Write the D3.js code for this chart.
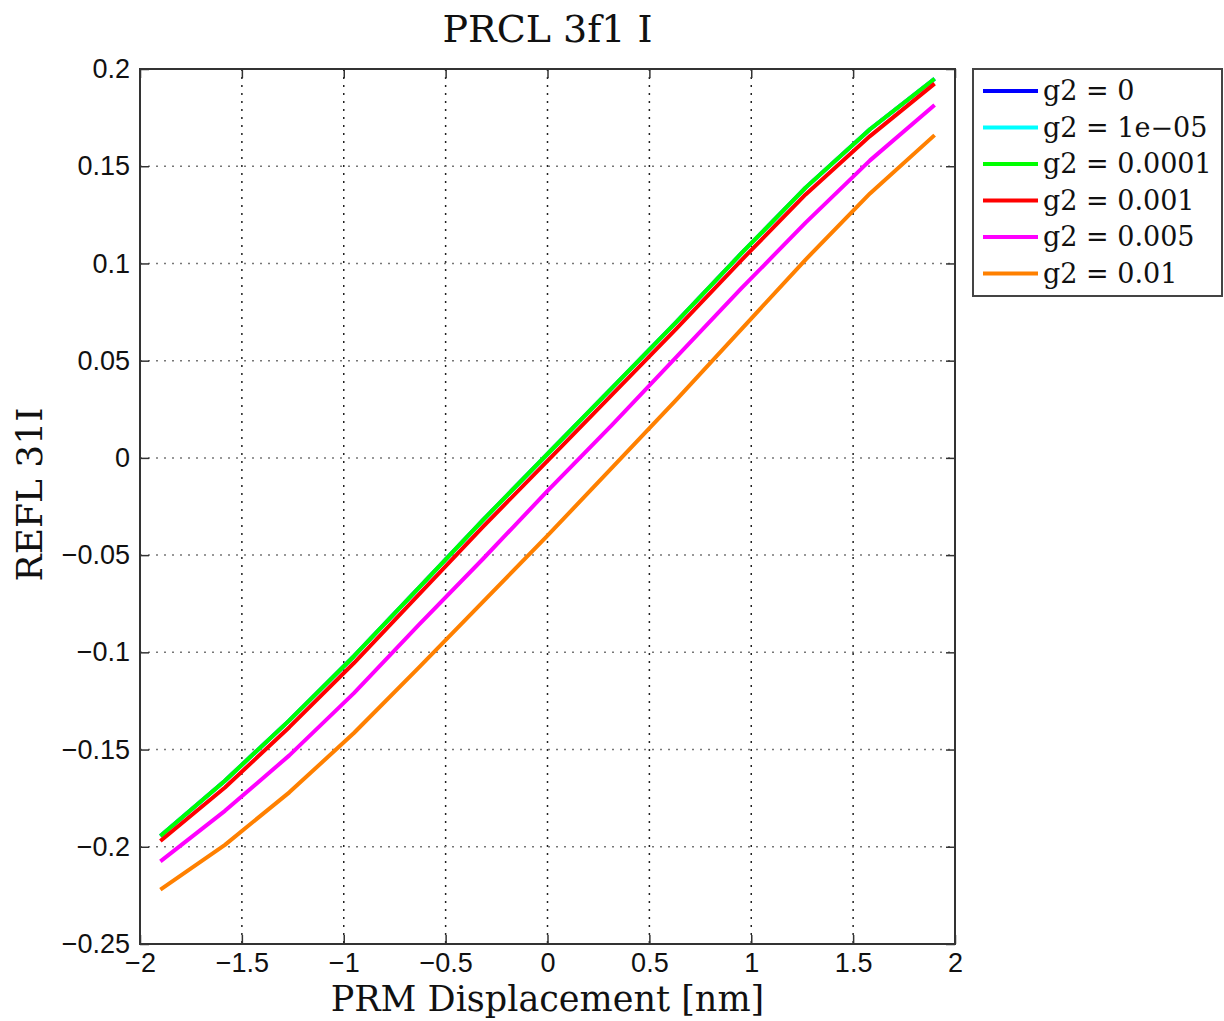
<!DOCTYPE html>
<html>
<head>
<meta charset="utf-8">
<script src="https://cdn.jsdelivr.net/npm/d3@7"></script>
<style>
  body { margin: 0; background: #fff; }
  svg { display: block; }
</style>
</head>
<body>
<div id="app"></div>
<script>
// PRM displacement samples [nm]
const xs = [-1.9, -1.583, -1.267, -0.95, -0.633, -0.317, 0, 0.317, 0.633, 0.95, 1.267, 1.583, 1.9];

// REFL 31I for each g2 value
const g2_0   = [-0.1945, -0.166, -0.135, -0.102, -0.067, -0.032, 0.002, 0.036, 0.070, 0.105, 0.139, 0.169, 0.195];
const g2_1e5 = [-0.1945, -0.166, -0.135, -0.102, -0.067, -0.032, 0.002, 0.036, 0.070, 0.105, 0.139, 0.169, 0.195];
const g2_1e4 = [-0.1945, -0.166, -0.135, -0.102, -0.067, -0.032, 0.002, 0.036, 0.070, 0.105, 0.139, 0.169, 0.195];
const g2_1e3 = [-0.197, -0.1695, -0.1385, -0.1055, -0.0705, -0.0355, -0.0015, 0.0325, 0.0665, 0.1015, 0.1355, 0.1655, 0.1925];
const g2_5e3 = [-0.2075, -0.1815, -0.153, -0.121, -0.086, -0.052, -0.017, 0.017, 0.052, 0.087, 0.121, 0.153, 0.1815];
const g2_1e2 = [-0.222, -0.199, -0.172, -0.1415, -0.108, -0.074, -0.040, -0.005, 0.030, 0.066, 0.102, 0.136, 0.166];

const seriesNames = ['g2 = 0', 'g2 = 1e\u221205', 'g2 = 0.0001', 'g2 = 0.001', 'g2 = 0.005', 'g2 = 0.01'];
const seriesValues = [g2_0, g2_1e5, g2_1e4, g2_1e3, g2_5e3, g2_1e2];
const seriesColors = ['#0000ff', '#00ffff', '#00ff00', '#ff0000', '#ff00ff', '#ff8000'];

const xTicks = [-2, -1.5, -1, -0.5, 0, 0.5, 1, 1.5, 2];
const yTicks = [-0.25, -0.2, -0.15, -0.1, -0.05, 0, 0.05, 0.1, 0.15, 0.2];

const W = 1224, H = 1021;
const plot = {left: 140, right: 955, top: 69, bottom: 944};

const fmt = d => (d < 0 ? '\u2212' : '') + String(Math.abs(d));

const x = d3.scaleLinear().domain([-2, 2]).range([plot.left, plot.right]);
const y = d3.scaleLinear().domain([-0.25, 0.2]).range([plot.bottom, plot.top]);

const svg = d3.select('#app').append('svg')
  .attr('width', W)
  .attr('height', H);

// grid
svg.append('g')
  .selectAll('line')
  .data(xTicks.slice(1, -1))
  .join('line')
  .attr('x1', d => x(d)).attr('x2', d => x(d))
  .attr('y1', plot.top).attr('y2', plot.bottom)
  .attr('stroke', '#222')
  .attr('stroke-width', 1.5)
  .attr('stroke-dasharray', '2,6');

svg.append('g')
  .selectAll('line')
  .data(yTicks.slice(1, -1))
  .join('line')
  .attr('x1', plot.left).attr('x2', plot.right)
  .attr('y1', d => y(d)).attr('y2', d => y(d))
  .attr('stroke', '#777')
  .attr('stroke-width', 1.5)
  .attr('stroke-dasharray', '2,6');

// axes (ticks inside, on all four sides)
const tickLen = 9;
const axisStyle = g => {
  g.select('.domain').remove();
  g.selectAll('.tick line').attr('stroke', '#333').attr('stroke-width', 1.5);
  g.selectAll('.tick text')
    .attr('fill', '#111')
    .style('font-family', '"Liberation Sans", Arial, sans-serif')
    .style('font-size', '27px');
};

svg.append('g')
  .attr('transform', `translate(0,${plot.bottom})`)
  .call(d3.axisBottom(x).tickValues(xTicks).tickFormat(fmt).tickSizeInner(-tickLen).tickSizeOuter(0).tickPadding(9))
  .call(axisStyle);

svg.append('g')
  .attr('transform', `translate(0,${plot.top})`)
  .call(d3.axisTop(x).tickValues(xTicks).tickFormat('').tickSizeInner(-tickLen).tickSizeOuter(0))
  .call(axisStyle);

svg.append('g')
  .attr('transform', `translate(${plot.left},0)`)
  .call(d3.axisLeft(y).tickValues(yTicks).tickFormat(fmt).tickSizeInner(-tickLen).tickSizeOuter(0).tickPadding(10))
  .call(axisStyle);

svg.append('g')
  .attr('transform', `translate(${plot.right},0)`)
  .call(d3.axisRight(y).tickValues(yTicks).tickFormat('').tickSizeInner(-tickLen).tickSizeOuter(0))
  .call(axisStyle);

// frame
svg.append('rect')
  .attr('x', plot.left).attr('y', plot.top)
  .attr('width', plot.right - plot.left).attr('height', plot.bottom - plot.top)
  .attr('fill', 'none')
  .attr('stroke', '#333')
  .attr('stroke-width', 2);

// lines
const line = d3.line()
  .x((d, i) => x(xs[i]))
  .y(d => y(d));

svg.append('g')
  .selectAll('path')
  .data(seriesValues)
  .join('path')
  .attr('d', line)
  .attr('fill', 'none')
  .attr('stroke', (d, i) => seriesColors[i])
  .attr('stroke-width', 4)
  .attr('stroke-linejoin', 'round');

// labels
const serif = '"DejaVu Serif", "Liberation Serif", serif';

svg.append('text')
  .attr('x', x(0))
  .attr('y', 42)
  .attr('text-anchor', 'middle')
  .style('font-family', serif)
  .style('font-size', '38px')
  .attr('fill', '#111')
  .text('PRCL 3f1 I');

svg.append('text')
  .attr('x', x(0))
  .attr('y', 1011)
  .attr('text-anchor', 'middle')
  .style('font-family', serif)
  .style('font-size', '35px')
  .attr('fill', '#111')
  .text('PRM Displacement [nm]');

svg.append('text')
  .attr('transform', `translate(42,${(plot.top + plot.bottom) / 2 - 12}) rotate(-90)`)
  .attr('text-anchor', 'middle')
  .style('font-family', serif)
  .style('font-size', '36px')
  .attr('fill', '#111')
  .text('REFL 31I');

// legend
const legend = svg.append('g');
legend.append('rect')
  .attr('x', 973).attr('y', 69)
  .attr('width', 249).attr('height', 227)
  .attr('fill', '#fff')
  .attr('stroke', '#444')
  .attr('stroke-width', 2);

const rowY = i => 91 + i * 36.5;
const items = legend.selectAll('g.item')
  .data(seriesNames)
  .join('g')
  .attr('class', 'item');

items.append('line')
  .attr('x1', 983).attr('x2', 1038)
  .attr('y1', (d, i) => rowY(i)).attr('y2', (d, i) => rowY(i))
  .attr('stroke', (d, i) => seriesColors[i])
  .attr('stroke-width', 4);

items.append('text')
  .attr('x', 1043)
  .attr('y', (d, i) => rowY(i) + 9)
  .style('font-family', serif)
  .style('font-size', '27px')
  .attr('fill', '#111')
  .text(d => d);
</script>
</body>
</html>
